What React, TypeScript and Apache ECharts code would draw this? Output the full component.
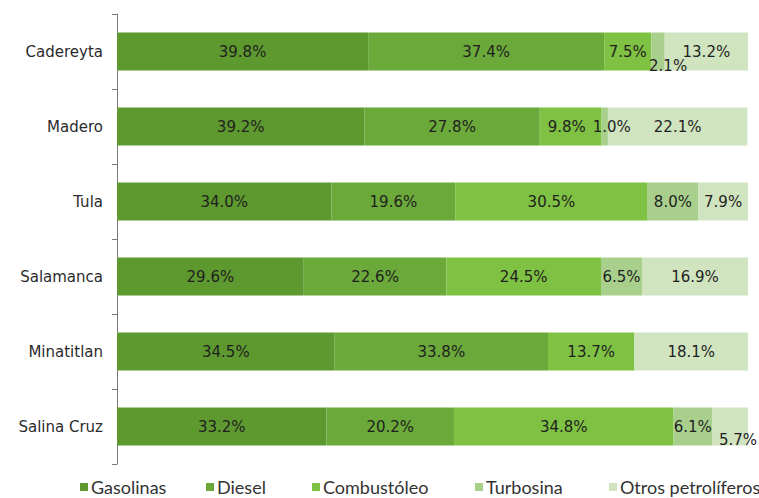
import React, { useEffect, useRef } from "react";
import * as echarts from "echarts";

const refinerias = ["Cadereyta", "Madero", "Tula", "Salamanca", "Minatitlan", "Salina Cruz"];
const gasolinas = [39.8, 39.2, 34.0, 29.6, 34.5, 33.2];
const diesel = [37.4, 27.8, 19.6, 22.6, 33.8, 20.2];
const combustoleo = [7.5, 9.8, 30.5, 24.5, 13.7, 34.8];
const turbosina = [2.1, 1.0, 8.0, 6.5, 0, 6.1];
const otros = [13.2, 22.1, 7.9, 16.9, 18.1, 5.7];

const seriesNames = ["Gasolinas", "Diesel", "Combustóleo", "Turbosina", "Otros petrolíferos"];
const seriesData = [gasolinas, diesel, combustoleo, turbosina, otros];
const colors = ["#5e992f", "#6ba93a", "#7fc143", "#a8d08c", "#d0e4bf"];
const legendLeft = [80, 206, 312, 475, 609];
// label offsets for small segments: [seriesIndex, categoryIndex, dx, dy]
const shifted: [number, number, number, number][] = [
  [3, 0, 10, 14],
  [2, 1, -4, 0],
  [3, 1, 7, 0],
  [4, 5, 8, 13],
];

export default function App() {
  const ref = useRef<HTMLDivElement>(null);
  useEffect(() => {
    if (!ref.current) return;
    const chart = echarts.init(ref.current, undefined, { renderer: "svg" });
    const series = seriesNames.map((name, si) => ({
      name,
      type: "bar",
      stack: "total",
      barWidth: 38,
      itemStyle: { color: colors[si] },
      label: {
        show: true,
        position: "inside",
        color: "#1f1f1f",
        fontFamily: "DejaVu Sans",
        fontSize: 15,
        formatter: (p: any) => (p.value ? p.value.toFixed(1) + "%" : ""),
      },
      data: seriesData[si].map((v, ci) => {
        const s = shifted.find((x) => x[0] === si && x[1] === ci);
        if (s) return { value: v, label: { offset: [s[2], s[3]] } };
        return v;
      }),
    }));
    chart.setOption({
      animation: false,
      grid: { left: 117, right: 11, top: 14, bottom: 34 },
      xAxis: { type: "value", min: 0, max: 100, show: false },
      yAxis: {
        type: "category",
        inverse: true,
        data: refinerias,
        axisLine: { show: true, lineStyle: { color: "#7a7a7a", width: 1 } },
        axisTick: { show: true, length: 5, lineStyle: { color: "#7a7a7a" } },
        axisLabel: {
          color: "#2b2b2b",
          fontFamily: "DejaVu Sans",
          fontSize: 15,
          margin: 14,
        },
      },
      legend: seriesNames.map((n, i) => ({
        data: [n],
        left: legendLeft[i],
        top: 478,
        itemWidth: 8,
        itemHeight: 8,
        icon: "rect",
        padding: 0,
        itemGap: 0,
        textStyle: { color: "#333", fontFamily: "Lato", fontSize: 18, padding: [0, 0, 0, -2] },
      })),
      series,
    });
    return () => chart.dispose();
  }, []);
  return <div ref={ref} style={{ width: 759, height: 498, position: "absolute", left: 0, top: 0 }} />;
}
